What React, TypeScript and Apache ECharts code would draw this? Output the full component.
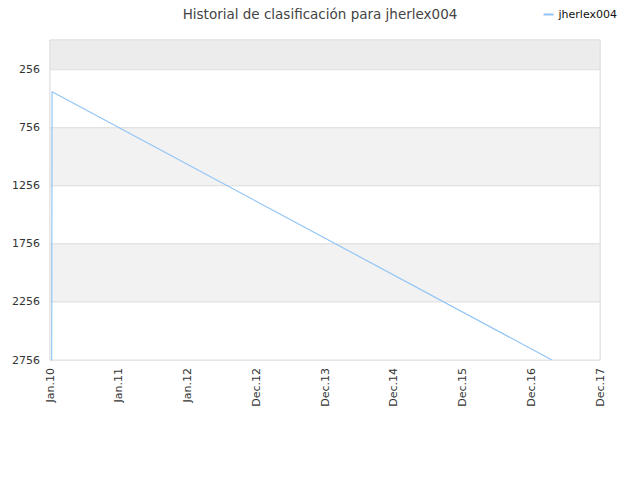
import React, { useEffect, useRef } from 'react';
import * as echarts from 'echarts';

const titleText = 'Historial de clasificación para jherlex004';
const seriesName = 'jherlex004';

// x = days since 1 Jan 2010, y = ranking position
const rankDays = [9, 11, 2665];
const rankValues = [2800, 445, 2756];

const xTickLabels = ['Jan.10', 'Jan.11', 'Jan.12', 'Dec.12', 'Dec.13', 'Dec.14', 'Dec.15', 'Dec.16', 'Dec.17'];
const yTickValues = [256, 756, 1256, 1756, 2256, 2756];
const bandEdges = [0, 256, 756, 1256, 1756, 2256, 2756];
const bandColors = ['#ececec', '#ffffff', '#f2f2f2', '#ffffff', '#f2f2f2', '#ffffff'];

const FONT = 'DejaVu Sans';

const App: React.FC = () => {
  const chartRef = useRef<HTMLDivElement>(null);

  useEffect(() => {
    if (!chartRef.current) return;
    const chart = echarts.init(chartRef.current, undefined, { renderer: 'svg' });

    const bands = bandColors.map((color, i) => [
      { yAxis: bandEdges[i], itemStyle: { color, borderColor: '#e0e0e0', borderWidth: 1 } },
      { yAxis: bandEdges[i + 1] }
    ]);

    chart.setOption({
      animation: false,
      backgroundColor: '#fff',
      textStyle: { fontFamily: FONT },
      title: {
        text: titleText,
        left: 'center',
        top: 2,
        textStyle: { fontSize: 13.5, fontWeight: 'normal', color: '#444', fontFamily: FONT }
      },
      legend: {
        data: [seriesName],
        right: 18,
        top: 4,
        icon: 'rect',
        itemWidth: 10,
        itemHeight: 2,
        itemGap: 5,
        textStyle: { fontSize: 11, color: '#111', fontFamily: FONT }
      },
      grid: {
        left: 50,
        right: 40,
        top: 40,
        bottom: 120,
        show: true,
        borderColor: '#dcdcdc',
        borderWidth: 1,
        backgroundColor: '#fff'
      },
      xAxis: {
        type: 'value',
        min: 0,
        max: 365 * 8,
        interval: 365,
        axisLine: { show: true, lineStyle: { color: '#dcdcdc' } },
        axisTick: { show: false },
        splitLine: { show: false },
        axisLabel: {
          rotate: 90,
          fontSize: 11,
          color: '#333',
          margin: 8,
          fontFamily: FONT,
          formatter: (v: number) => xTickLabels[Math.round(v / 365)] ?? ''
        }
      },
      yAxis: {
        type: 'value',
        inverse: true,
        min: 0,
        max: 2756,
        axisLine: { show: false },
        axisTick: { show: false },
        splitLine: { show: false },
        axisLabel: {
          fontSize: 11,
          color: '#333',
          margin: 10,
          fontFamily: FONT,
          customValues: yTickValues,
          formatter: (v: number) => String(v)
        }
      },
      series: [
        {
          name: seriesName,
          type: 'line',
          data: rankDays.map((d, i) => [d, rankValues[i]]),
          symbol: 'none',
          lineStyle: { color: '#92c5f5', width: 1.2 },
          itemStyle: { color: '#92c5f5' },
          markArea: {
            silent: true,
            data: bands
          },
          z: 3
        }
      ]
    });

    return () => {
      chart.dispose();
    };
  }, []);

  return (
    <div
      ref={chartRef}
      style={{ position: 'fixed', left: 0, top: 0, width: 640, height: 480 }}
    />
  );
};

export default App;
